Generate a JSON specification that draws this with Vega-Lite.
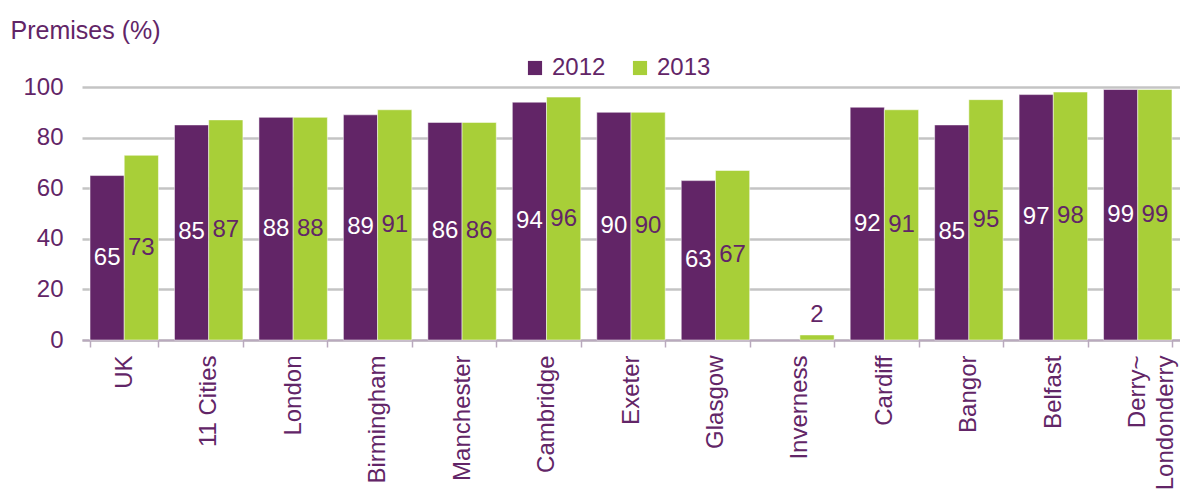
{
  "$schema": "https://vega.github.io/schema/vega-lite/v6.json",
  "autosize": "none",
  "padding": {"left": 82, "top": 87, "right": 0, "bottom": 152},
  "width": 1098,
  "height": 253,
  "background": "white",
  "config": {
    "view": {"stroke": null},
    "font": "Liberation Sans",
    "text": {"font": "Liberation Sans"}
  },
  "data": {
    "values": [
      {"place": "UK", "year": "2012", "value": 65},
      {"place": "UK", "year": "2013", "value": 73},
      {"place": "11 Cities", "year": "2012", "value": 85},
      {"place": "11 Cities", "year": "2013", "value": 87},
      {"place": "London", "year": "2012", "value": 88},
      {"place": "London", "year": "2013", "value": 88},
      {"place": "Birmingham", "year": "2012", "value": 89},
      {"place": "Birmingham", "year": "2013", "value": 91},
      {"place": "Manchester", "year": "2012", "value": 86},
      {"place": "Manchester", "year": "2013", "value": 86},
      {"place": "Cambridge", "year": "2012", "value": 94},
      {"place": "Cambridge", "year": "2013", "value": 96},
      {"place": "Exeter", "year": "2012", "value": 90},
      {"place": "Exeter", "year": "2013", "value": 90},
      {"place": "Glasgow", "year": "2012", "value": 63},
      {"place": "Glasgow", "year": "2013", "value": 67},
      {"place": "Inverness", "year": "2013", "value": 2},
      {"place": "Cardiff", "year": "2012", "value": 92},
      {"place": "Cardiff", "year": "2013", "value": 91},
      {"place": "Bangor", "year": "2012", "value": 85},
      {"place": "Bangor", "year": "2013", "value": 95},
      {"place": "Belfast", "year": "2012", "value": 97},
      {"place": "Belfast", "year": "2013", "value": 98},
      {"place": "Derry~Londonderry", "year": "2012", "value": 99},
      {"place": "Derry~Londonderry", "year": "2013", "value": 99}
    ]
  },
  "encoding": {
    "x": {
      "field": "place",
      "type": "nominal",
      "sort": null,
      "scale": {"paddingInner": 0.19, "paddingOuter": 0.095, "align": 0.5},
      "axis": {
        "title": null,
        "labelAngle": 270,
        "labelAlign": "right",
        "labelBaseline": "middle",
        "labelFontSize": 24,
        "labelColor": "#622567",
        "labelPadding": 8,
        "labelExpr": "datum.value == 'Derry~Londonderry' ? ['Derry~', 'Londonderry'] : datum.label",
        "labelLineHeight": 28,
        "labelOverlap": false,
        "domainColor": "#b9a9bd",
        "domainWidth": 2,
        "tickColor": "#b9a9bd",
        "tickWidth": 1.5,
        "tickSize": 7,
        "tickBand": "extent",
        "grid": false
      }
    },
    "xOffset": {"field": "year", "type": "nominal", "scale": {"paddingInner": 0}}
  },
  "layer": [
    {
      "mark": {"type": "bar", "stroke": "white", "strokeWidth": 0.5},
      "encoding": {
        "y": {
          "field": "value",
          "type": "quantitative",
          "scale": {"domain": [0, 100], "nice": false},
          "axis": {
            "values": [0, 20, 40, 60, 80, 100],
            "title": "Premises (%)",
            "titleAngle": 0,
            "titleX": -72,
            "titleY": -57,
            "titleAlign": "left",
            "titleBaseline": "middle",
            "titleFontSize": 25,
            "titleFontWeight": "normal",
            "titleColor": "#622567",
            "labelFontSize": 24,
            "labelColor": "#622567",
            "labelPadding": 19,
            "domain": false,
            "ticks": false,
            "gridColor": "#c4c4c4",
            "gridWidth": 2.5
          }
        },
        "color": {
          "field": "year",
          "type": "nominal",
          "scale": {"domain": ["2012", "2013"], "range": ["#622567", "#a8cf38"]},
          "legend": {
            "title": null,
            "orient": "none",
            "direction": "horizontal",
            "legendX": 441,
            "legendY": -31,
            "symbolType": "square",
            "symbolSize": 200,
            "symbolStrokeWidth": 0,
            "labelFontSize": 24,
            "labelColor": "#622567",
            "labelOffset": 5,
            "columnPadding": 22
          }
        }
      }
    },
    {
      "transform": [{"filter": "datum.value >= 5"}],
      "mark": {"type": "text", "fontSize": 24, "baseline": "middle", "align": "center"},
      "encoding": {
        "y": {
          "field": "value",
          "type": "quantitative",
          "scale": {"domain": [0, 200], "nice": false},
          "axis": null
        },
        "text": {"field": "value", "type": "quantitative"},
        "color": {
          "condition": {"test": "datum.year == '2012'", "value": "white"},
          "value": "#622567"
        }
      }
    },
    {
      "transform": [{"filter": "datum.value < 5"}],
      "mark": {"type": "text", "fontSize": 24, "baseline": "bottom", "align": "center", "dy": -8, "color": "#622567"},
      "encoding": {
        "y": {
          "field": "value",
          "type": "quantitative",
          "scale": {"domain": [0, 100], "nice": false},
          "axis": null
        },
        "text": {"field": "value", "type": "quantitative"}
      }
    }
  ],
  "resolve": {"scale": {"y": "independent"}}
}
